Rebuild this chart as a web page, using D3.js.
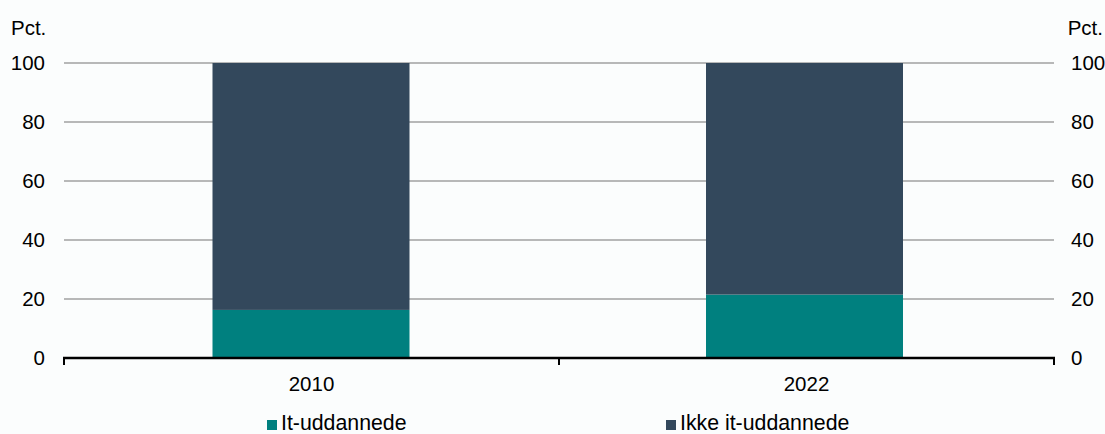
<!DOCTYPE html>
<html><head><meta charset="utf-8">
<script src="https://cdn.jsdelivr.net/npm/d3@7"></script>
<style>body{margin:0;background:#fbfdfd;}svg{display:block;font-family:Arial,"Liberation Sans",sans-serif;}</style>
</head><body><svg id="c" width="1105" height="434"></svg>
<script>
const categories = ["2010", "2022"];
const itUddannede = [16.3, 21.5];
const ikkeItUddannede = [83.7, 78.5];
const yTicks = [0, 20, 40, 60, 80, 100];
const seriesNames = ["It-uddannede", "Ikke it-uddannede"];
const colors = ["#00807f", "#33485c"];

const svg = d3.select("#c");
const W = 1105, H = 434;
const m = {l: 64, r: 51, t: 63, b: 76};
const x = d3.scaleBand().domain(categories).range([m.l, W - m.r]).paddingInner(0.6).paddingOuter(0.3);
const y = d3.scaleLinear().domain([0, 100]).range([H - m.b, m.t]);
const FS = 20.5;

svg.append("rect").attr("width", W).attr("height", H).attr("fill", "#fbfdfd");

// gridlines
svg.append("g").selectAll("line").data(yTicks.filter(d => d > 0)).join("line")
  .attr("x1", m.l).attr("x2", W - m.r)
  .attr("y1", d => y(d)).attr("y2", d => y(d))
  .attr("stroke", "#a0a0a0").attr("stroke-width", 1.5);

const stackData = categories.map((c, i) => ({cat: c, a: itUddannede[i], b: ikkeItUddannede[i]}));
const stack = d3.stack().keys(["a", "b"])(stackData);
svg.append("g").selectAll("g").data(stack).join("g").attr("fill", (d, i) => colors[i])
  .selectAll("rect").data(d => d).join("rect")
  .attr("x", d => x(d.data.cat) - (d.data.cat === "2022" ? 1.5 : 0)).attr("width", x.bandwidth() - 1)
  .attr("y", d => y(d[1])).attr("height", d => y(d[0]) - y(d[1]));

// y axes labels
const yl = d3.axisLeft(y).tickValues(yTicks).tickSize(0).tickPadding(19);
const gl = svg.append("g").attr("transform", `translate(${m.l},0)`).call(yl);
const yr = d3.axisRight(y).tickValues(yTicks).tickSize(0).tickPadding(17);
const gr = svg.append("g").attr("transform", `translate(${W - m.r},0)`).call(yr);
[gl, gr].forEach(g => {
  g.select(".domain").remove();
  g.selectAll("text").attr("font-size", FS).attr("fill", "#000").attr("font-family", "Arial, Liberation Sans, sans-serif");
});

// x axis
const x0 = y(0);
svg.append("line").attr("x1", m.l - 1).attr("x2", W - m.r + 1).attr("y1", x0).attr("y2", x0)
  .attr("stroke", "#000").attr("stroke-width", 2.5);
const xEdges = [m.l, (m.l + W - m.r) / 2, W - m.r];
svg.append("g").selectAll("line").data(xEdges).join("line")
  .attr("x1", d => d).attr("x2", d => d).attr("y1", x0).attr("y2", x0 + 7)
  .attr("stroke", "#000").attr("stroke-width", 2);
svg.append("g").selectAll("text").data(categories).join("text")
  .attr("x", d => x(d) + x.bandwidth() / 2).attr("y", 391)
  .attr("text-anchor", "middle").attr("font-size", FS).text(d => d);

// Pct labels
svg.append("text").attr("x", 11).attr("y", 35).attr("font-size", FS).text("Pct.");
svg.append("text").attr("x", 1103).attr("y", 35).attr("font-size", FS).attr("text-anchor", "end").text("Pct.");

// legend
const legX = [267, 666];
const lg = svg.append("g").selectAll("g").data(seriesNames).join("g")
  .attr("transform", (d, i) => `translate(${legX[i]},0)`);
lg.append("rect").attr("x", 0).attr("y", 420).attr("width", 10).attr("height", 10).attr("fill", (d, i) => colors[i]);
lg.append("text").attr("x", 14).attr("y", 430).attr("font-size", 21.3).text(d => d);
</script></body></html>
